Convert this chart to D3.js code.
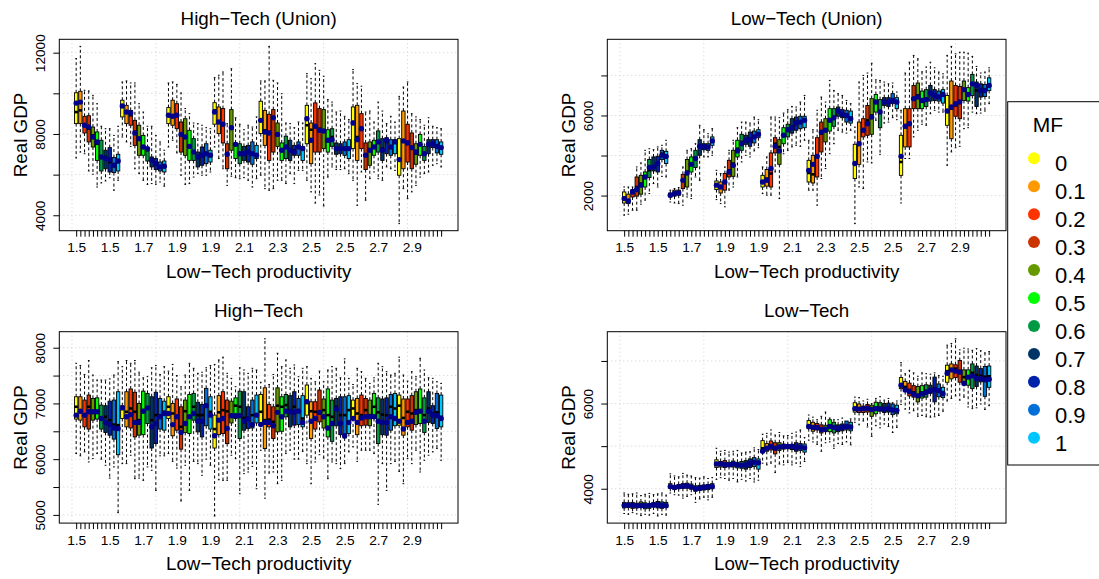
<!DOCTYPE html>
<html>
<head>
<meta charset="utf-8">
<script src="https://cdn.jsdelivr.net/npm/d3@7"></script>
<style>
  html, body { margin: 0; padding: 0; background: #fff; }
  svg { display: block; font-family: "Liberation Sans", Arial, Helvetica, sans-serif; }
</style>
</head>
<body>
<svg id="chart" width="1099" height="579"></svg>
<script>
// Low-Tech productivity groups, each holding one box per MF level
const productivity = ["1.5", "1.7", "1.9", "2.1", "2.3", "2.5", "2.7", "2.9"];
const mfLevels = ["0", "0.1", "0.2", "0.3", "0.4", "0.5", "0.6", "0.7", "0.8", "0.9", "1"];
const mfColors = ["#FFFF00", "#FF9900", "#FF3300", "#CC3300", "#669900", "#00FF00",
                  "#009944", "#003366", "#0022AA", "#0070D8", "#00C5FF"];

// High-Tech (Union): whisker top, upper quartile, median, lower quartile, whisker bottom, mean
const htuHi = [11710,12310,10150,10120,9900,9490,8380,8260,8260,7930,8380,
  10560,10610,10510,10510,9490,9080,8380,8380,7930,7610,7200,
  10510,10560,10440,10020,9250,9000,8540,8510,8430,8310,8260,
  10770,10890,11050,8510,11210,8800,8480,8210,8430,8340,8840,
  10610,10610,12310,10640,10510,9980,8540,8510,8310,8590,8540,
  10970,10720,11460,11130,10840,9690,9570,9080,9130,8870,8710,
  11170,10480,10350,9080,9130,8590,9570,9130,8510,8870,8590,
  9850,10310,10560,9000,8840,8710,8430,8800,8380,8310,8260];
const htuQ3 = [10030,10100,8870,8900,8340,8100,7690,7200,7330,6840,7000,
  9660,9410,9160,8670,8430,7930,7330,6870,6790,6620,6670,
  9300,9660,9490,8590,8750,8180,7770,7110,7360,7520,7200,
  9540,9330,9250,7520,9200,7560,7520,7390,7440,7610,7440,
  9610,9160,8970,9200,8540,7560,7890,7690,7440,7610,7390,
  9410,8540,9530,9250,9200,8210,8260,7560,7520,7610,7720,
  9330,9410,9000,7560,7610,7690,8150,7770,7820,7720,7720,
  7770,9130,8480,8050,7520,7980,7390,7720,7720,7720,7610];
const htuMed = [9080,9160,8430,8260,7930,7520,6870,6870,6620,6460,6620,
  9380,9080,8920,8100,7770,7360,7200,6700,6540,6380,6410,
  8920,8920,8920,7930,7850,7390,7110,6870,6950,7030,6950,
  9160,8590,8480,7000,8260,7490,7030,7030,7110,7000,6950,
  8670,8180,8100,8800,7980,7200,7360,7200,7200,7360,7230,
  8430,8210,8380,8260,8180,7690,7850,7280,7280,7330,7280,
  8590,7850,8310,6950,7200,7360,7610,7280,7610,7360,7610,
  6740,7690,7610,7360,7030,7490,7030,7440,7520,7390,7330];
const htuQ1 = [8510,8510,8050,7610,7360,6700,6180,6290,6130,6100,6180,
  8840,8510,8430,7440,6950,6950,6670,6380,6250,6180,6130,
  8510,8430,8260,7110,6950,6700,6700,6380,6460,6540,6620,
  8480,8020,7560,6290,7200,6790,6540,6700,6620,6510,6790,
  8020,7440,6700,7110,7390,6700,6790,6700,6950,6950,6700,
  7520,6540,7110,7110,7280,7110,7390,7000,7030,6950,6790,
  7280,6700,7280,6250,6460,6950,7110,6700,7030,6950,7030,
  5970,6290,6620,6290,6510,6950,6700,7030,7330,7070,7000];
const htuLo = [6820,7110,7030,6180,6020,5390,5590,5690,5850,5230,5720,
  7850,7610,7390,6290,6050,5720,5520,5560,5520,5640,5430,
  7360,7690,7070,5970,5520,5560,5880,6050,5970,5970,6130,
  7360,6790,6290,5470,5920,5850,5800,5850,5720,5390,5800,
  5970,5310,5230,5310,5720,5720,5560,6050,5560,6210,6210,
  5720,5150,4600,5000,4460,5880,6380,6250,6250,6290,6050,
  5720,4490,6130,4740,5800,6130,5800,5720,6380,6290,6210,
  3590,5310,4820,5150,5470,5880,6050,6130,6460,6540,6380];
const htuMean = [9520,9570,8430,8340,7850,7610,6870,6790,6740,6460,6670,
  9380,9080,9030,8050,7770,7360,7280,6700,6540,6380,6410,
  8920,8870,8920,7980,7850,7390,7110,6870,6950,7030,6950,
  9080,8590,8480,7000,8310,7490,7030,7030,7110,7030,6950,
  8670,8100,8050,8800,7980,7200,7360,7200,7110,7360,7280,
  8750,7690,8380,8180,8150,7690,7720,7280,7280,7280,7280,
  8540,7720,8260,6950,7200,7360,7610,7200,7690,7360,7610,
  6740,7660,7560,7330,7110,7490,7030,7490,7520,7390,7330];

// Low-Tech (Union)
const ltuHi = [2430,2430,2430,3430,3630,4260,4340,4290,4430,4510,4760,
  2270,2350,2400,3430,4260,4340,4590,5510,5290,5090,5340,
  3260,3100,3430,4260,4760,5390,5670,5670,5620,5920,5790,
  3430,3930,5920,5920,5890,6120,6290,6450,6420,6670,7000,
  4760,5290,6260,6920,6670,7750,7250,7090,7000,6750,6590,
  5420,7670,8000,8120,8610,7780,7750,7670,7580,7620,7170,
  6260,8120,8660,9000,8830,8180,8420,8660,8380,8170,8080,
  9000,9450,9080,9160,9160,9110,8950,8450,8120,8170,8380];
const ltuQ3 = [2180,2070,2300,2930,3010,3180,3800,3930,3960,4260,4210,
  2130,2270,2270,3060,3800,3930,4260,4790,4590,4590,4930,
  2730,2680,3100,3760,4260,4760,5060,5010,5170,5220,5290,
  3010,3300,4130,4890,4790,5390,5560,5840,5920,5960,5960,
  3760,4010,4890,5670,5840,6340,6340,6420,6290,6260,6220,
  4560,5670,5840,6500,6840,7050,6790,6890,6890,7090,6890,
  5010,6340,6340,7500,7620,7220,7290,7500,7290,7220,7290,
  7000,7720,7500,7450,7720,7390,8050,7670,7580,7550,7880];
const ltuMed = [1900,1770,2180,2430,2600,2930,3260,3430,3560,4090,3930,
  2030,2100,2130,2760,3180,3560,3850,4460,4460,4430,4730,
  2520,2430,2680,3260,3600,4340,4680,4760,4840,4930,5090,
  2680,2850,3100,4590,4430,5010,5260,5460,5670,5670,5760,
  3130,3060,3930,5090,5290,5790,5840,6220,6090,6000,5890,
  3600,4560,5220,5760,6000,6670,6220,6720,6670,6750,6670,
  3680,5390,5590,6840,7000,6750,6840,7170,7000,6950,7090,
  6260,6340,6500,6670,7290,7090,7580,7250,7290,7250,7550];
const ltuQ1 = [1630,1600,1930,1970,2070,2430,2900,3230,3180,3800,3600,
  1930,1970,2020,2350,2430,3180,3400,4010,4290,4260,4510,
  2300,2130,2270,2930,2960,3930,4260,4560,4460,4630,4890,
  2430,2470,2430,4130,3560,4590,4930,5120,5260,5340,5390,
  2680,2630,2930,4180,4680,5220,5460,5960,5890,5670,5620,
  2850,3560,4930,5010,5060,6170,5390,6500,6450,6590,6340,
  3010,4430,4430,6340,6340,6340,6450,6720,6750,6720,6620,
  5510,4840,5960,5840,6750,6720,7000,6450,6920,6950,7250];
const ltuLo = [1020,1070,1270,1270,1570,1770,2100,2600,2430,2960,2930,
  1680,1630,1600,1520,1930,1850,2930,2760,3930,3930,4010,
  1800,1600,1440,2270,2430,2930,3680,4010,3930,4230,4390,
  2100,2020,2020,3180,1850,4090,4260,4430,4510,4460,4760,
  2270,2270,1520,2850,3350,4090,4590,5260,5170,5120,5260,
  600,2430,2350,3680,3630,5760,4060,5620,5670,5890,5790,
  1630,3850,3850,4930,5260,5560,5510,6090,6260,6170,6170,
  3510,4180,4390,4460,5340,5390,6170,6090,6120,6220,6590];
const ltuMean = [1850,1730,2180,2300,2520,2930,3400,3430,3600,4010,3960,
  2020,2100,2130,2760,3130,3560,3850,4460,4430,4430,4730,
  2520,2430,2680,3180,3510,4230,4590,4760,4790,4930,5060,
  2680,2760,3350,4460,4230,5010,5290,5390,5620,5670,5760,
  3260,3560,3960,5170,5260,5760,5890,6220,6060,6000,5840,
  3600,4590,5260,5590,5920,6670,6170,6670,6670,6750,6670,
  3960,5460,5590,6840,6920,6750,6790,7120,7000,6920,7050,
  6220,6420,6590,6670,7290,7050,7580,7500,7250,7250,7500];

// High-Tech
const htHi = [7720,7680,7520,7770,7510,7420,7420,7420,7440,7510,7750,
  7660,7770,7720,7770,7560,7460,7480,7640,7680,7520,7660,
  7580,7700,7500,7300,7510,7720,7630,7540,7560,7640,7680,
  7700,7780,7830,7540,7450,7300,7640,7600,7540,7630,7600,
  7380,8160,7340,7520,7900,7660,7780,7630,7690,7480,7630,
  7660,7450,7390,7580,7390,7600,7660,7630,7460,7800,7450,
  7340,7630,7570,7450,7360,7460,7720,7660,7570,7510,7540,
  7830,7510,7400,7570,7480,7810,7600,7460,7450,7390,7360];
const htQ3 = [7120,7120,7060,7150,7090,7100,6970,6960,7040,7060,7210,
  6960,7210,7260,7200,7000,7220,7180,7120,7200,7090,7040,
  7120,7000,7080,6940,7060,7160,7180,7020,6980,7270,7120,
  6790,7140,7210,7060,7040,7100,7220,7210,6940,7060,7150,
  7160,7280,6980,6940,7280,7120,7160,7140,7210,7090,7140,
  7330,7030,7030,7240,7080,7260,7060,7090,7120,7120,7140,
  7060,7090,7150,7090,7060,7180,7100,7080,7100,7160,7180,
  7150,7080,7080,7140,7210,7260,7100,7210,6960,7180,7150];
const htMed = [6940,6850,6790,6940,6850,6860,6740,6760,6700,6620,6610,
  6920,6850,6910,6850,6700,6880,6920,6700,6790,6790,6850,
  6940,6820,6760,6580,6860,6760,6940,6790,6790,6970,6850,
  6540,6840,6880,6860,6790,6960,6940,6740,6740,6790,6800,
  6850,6700,6710,6670,6960,6940,6970,6880,6940,6880,6730,
  7030,6860,6850,6820,6880,6790,6760,6940,6790,6790,6880,
  6910,6820,6790,6880,6790,6940,6840,6800,6790,6940,6910,
  6960,6740,6850,6820,6880,6850,6790,6910,6820,6840,6760];
const htQ1 = [6720,6700,6580,6540,6700,6720,6540,6480,6430,6360,6080,
  6730,6580,6560,6400,6430,6440,6640,6200,6280,6540,6520,
  6730,6420,6520,6180,6480,6460,6700,6490,6400,6600,6540,
  6200,6440,6460,6280,6650,6730,6370,6520,6550,6560,6650,
  6660,6190,6580,6370,6490,6500,6760,6580,6610,6620,6580,
  6790,6370,6540,6670,6560,6400,6320,6600,6440,6380,6460,
  6730,6440,6600,6610,6600,6730,6280,6440,6430,6520,6600,
  6610,6430,6580,6520,6620,6640,6480,6660,6640,6550,6580];
const htLo = [6100,6060,6130,5950,6010,6100,6000,5890,5660,5860,5040,
  5920,5920,6070,5650,5660,5620,5860,5800,5440,6060,6060,
  6100,5960,5840,5250,5890,5440,5960,5920,5710,6000,5890,
  4980,5630,5620,5620,6070,6010,5380,5740,5770,5870,5470,
  6160,5300,5750,5770,5560,5620,6100,6160,6000,6000,6140,
  5920,5560,5950,6080,6020,5650,5950,5920,5830,5920,6130,
  6220,5960,6160,6160,6160,6100,5190,5920,5440,5920,5960,
  5780,5560,6010,5920,6160,5770,5980,6070,6130,6190,5980];
const htMean = [6790,6860,6790,6850,6850,6850,6730,6660,6620,6560,6550,
  6920,6760,6800,6660,6660,6860,6920,6580,6640,6760,6820,
  6820,6620,6760,6480,6640,6760,6820,6680,6680,6960,6790,
  6420,6700,6730,6550,6780,6780,6780,6680,6720,6620,6790,
  6620,6660,6660,6600,6840,6760,6860,6850,6840,6860,6660,
  7030,6680,6730,6840,6760,6560,6640,6900,6640,6420,6660,
  6730,6660,6740,6760,6760,6760,6680,6660,6660,6760,6730,
  6680,6540,6660,6680,6840,6860,6680,6860,6790,6780,6730];

// Low-Tech
const ltHi = [3900,3870,3880,3900,3840,3870,3890,3860,3880,3900,3850,
  4350,4300,4280,4360,4320,4300,4260,4250,4280,4240,4260,
  4950,4880,4900,4860,4880,4900,4840,4860,4870,4960,4920,
  5280,5300,5380,5260,5320,5240,5250,5300,5330,5380,5200,
  5730,5680,5620,5700,5800,5660,5620,5620,5660,5560,5640,
  6150,6140,6060,6100,6000,6120,6160,6080,6120,6020,6060,
  6960,6700,6780,6720,6640,6720,6700,6690,6720,6660,6640,
  7370,7410,7520,7260,7300,7280,7250,7290,7240,7190,7220];
const ltQ3 = [3680,3670,3680,3660,3690,3670,3650,3680,3700,3690,3680,
  4120,4080,4100,4120,4130,4110,4070,4080,4090,4100,4120,
  4680,4640,4660,4620,4650,4620,4640,4660,4700,4730,4700,
  5130,5060,5120,5080,5080,5050,5030,5040,5080,5060,5050,
  5600,5560,5530,5500,5490,5620,5560,5500,5520,5590,5560,
  6020,5990,5940,5980,5960,6030,6020,6000,6010,5990,5960,
  6610,6520,6480,6420,6400,6420,6440,6430,6620,6460,6380,
  6900,6930,6910,7010,6790,6790,6930,6880,6820,6870,6880];
const ltMed = [3620,3610,3620,3600,3610,3590,3600,3620,3630,3600,3610,
  4060,4030,4060,4070,4080,4050,4000,4020,4040,4050,4060,
  4600,4580,4590,4560,4580,4570,4560,4570,4600,4640,4610,
  4950,4960,5020,4960,5000,4990,5000,5010,4980,4990,4970,
  5480,5430,5460,5420,5380,5490,5460,5400,5440,5470,5450,
  5900,5880,5870,5900,5860,5890,5880,5890,5880,5860,5820,
  6440,6390,6320,6260,6200,6260,6300,6330,6350,6330,6270,
  6760,6780,6820,6750,6620,6640,6720,6670,6650,6630,6640];
const ltQ1 = [3550,3560,3540,3550,3560,3530,3540,3570,3550,3540,3560,
  4010,3980,4000,4010,4010,3990,3940,3960,3970,3980,4000,
  4500,4510,4500,4520,4510,4490,4480,4460,4500,4520,4460,
  4860,4880,4910,4820,4900,4930,4940,4920,4880,4900,4860,
  5410,5350,5380,5310,5340,5340,5310,5340,5360,5380,5360,
  5800,5790,5790,5800,5700,5760,5820,5790,5800,5740,5760,
  6350,6280,6180,6150,6040,6130,6150,6240,6040,6160,6140,
  6500,6580,6610,6500,6480,6430,6350,6400,6510,6170,6380];
const ltLo = [3420,3400,3440,3410,3370,3400,3380,3420,3360,3400,3380,
  3900,3860,3850,3780,3820,3860,3680,3760,3800,3740,3800,
  4220,4260,4240,4200,4240,4160,4220,4180,4240,4160,4200,
  4600,4560,4600,4380,4580,4560,4620,4560,4600,4520,4640,
  5140,5100,5040,4880,5080,5100,4950,5060,5040,5100,5030,
  5560,5500,5590,5450,5230,5480,5430,5520,5460,5320,5440,
  5980,5870,5780,5830,5700,5720,5690,5680,5690,5720,5820,
  6060,6120,6180,6080,6150,5920,5880,5900,5990,5860,5950];
const ltMean = [3610,3620,3610,3600,3600,3600,3610,3620,3620,3610,3600,
  4050,4030,4050,4060,4070,4040,4000,4010,4030,4050,4050,
  4580,4580,4570,4560,4580,4560,4550,4560,4590,4620,4610,
  4880,4950,4990,4950,4980,4990,4990,5000,4970,4980,4960,
  5460,5440,5440,5390,5400,5460,5440,5420,5440,5460,5450,
  5880,5870,5880,5890,5860,5880,5880,5870,5880,5850,5840,
  6430,6320,6280,6220,6180,6220,6260,6300,6330,6300,6230,
  6710,6790,6760,6740,6470,6620,6650,6590,6590,6560,6570];

const panelTitles = ["High\u2212Tech (Union)", "Low\u2212Tech (Union)", "High\u2212Tech", "Low\u2212Tech"];
const xTitle = "Low\u2212Tech productivity";
const yTitle = "Real GDP";

const panels = [
  { title: panelTitles[0], col: 0, row: 0, hi: htuHi, q3: htuQ3, med: htuMed, q1: htuQ1, lo: htuLo, mean: htuMean },
  { title: panelTitles[1], col: 1, row: 0, hi: ltuHi, q3: ltuQ3, med: ltuMed, q1: ltuQ1, lo: ltuLo, mean: ltuMean },
  { title: panelTitles[2], col: 0, row: 1, hi: htHi,  q3: htQ3,  med: htMed,  q1: htQ1,  lo: htLo,  mean: htMean },
  { title: panelTitles[3], col: 1, row: 1, hi: ltHi,  q3: ltQ3,  med: ltMed,  q1: ltQ1,  lo: ltLo,  mean: ltMean }
];

const svg = d3.select("#chart");
const plotW = 398.7, plotH = 191.4;
const FONT = '"Liberation Sans", Arial, Helvetica, sans-serif';

panels.forEach(p => {
  const x0 = 59.3 + p.col * 548, y0 = 39.3 + p.row * 292.4;
  const x1 = x0 + plotW, y1 = y0 + plotH;
  const n = p.med.length;
  const nMF = mfLevels.length;

  // boxplot-style limits: 4% padding on both axes
  const xPad = 0.04 * n;
  const x = d3.scaleLinear().domain([0.5 - xPad, n + 0.5 + xPad]).range([x0, x1]);
  const yMin = d3.min(p.lo), yMax = d3.max(p.hi);
  const yPad = 0.04 * (yMax - yMin);
  const y = d3.scaleLinear().domain([yMin - yPad, yMax + yPad]).range([y1, y0]);

  const g = svg.append("g");

  // dotted grid
  const yTicks = y.ticks(5);
  const xGrid = d3.ticks(x.domain()[0], x.domain()[1], 5);
  g.append("g").selectAll("line.h").data(yTicks).join("line")
    .attr("x1", x0).attr("x2", x1).attr("y1", d => y(d)).attr("y2", d => y(d))
    .attr("stroke", "#cfcfcf").attr("stroke-width", 1).attr("stroke-dasharray", "1,3");
  g.append("g").selectAll("line.v").data(xGrid).join("line")
    .attr("x1", d => x(d)).attr("x2", d => x(d)).attr("y1", y0).attr("y2", y1)
    .attr("stroke", "#cfcfcf").attr("stroke-width", 1).attr("stroke-dasharray", "1,3");

  // boxes
  const idx = d3.range(n);
  const bw = x(1.8) - x(1);
  const staple = bw / 4;
  const boxes = g.append("g").selectAll("g").data(idx).join("g");
  const cx = i => x(i + 1);
  const dash = "3,2.5";
  boxes.append("line")
    .attr("x1", cx).attr("x2", cx).attr("y1", i => y(p.q3[i])).attr("y2", i => y(p.hi[i]))
    .attr("stroke", "#000").attr("stroke-width", 1).attr("stroke-dasharray", dash);
  boxes.append("line")
    .attr("x1", cx).attr("x2", cx).attr("y1", i => y(p.q1[i])).attr("y2", i => y(p.lo[i]))
    .attr("stroke", "#000").attr("stroke-width", 1).attr("stroke-dasharray", dash);
  boxes.append("line")
    .attr("x1", i => cx(i) - staple).attr("x2", i => cx(i) + staple)
    .attr("y1", i => y(p.hi[i])).attr("y2", i => y(p.hi[i]))
    .attr("stroke", "#000").attr("stroke-width", 1);
  boxes.append("line")
    .attr("x1", i => cx(i) - staple).attr("x2", i => cx(i) + staple)
    .attr("y1", i => y(p.lo[i])).attr("y2", i => y(p.lo[i]))
    .attr("stroke", "#000").attr("stroke-width", 1);
  boxes.append("rect")
    .attr("x", i => cx(i) - bw / 2).attr("width", bw)
    .attr("y", i => y(p.q3[i])).attr("height", i => y(p.q1[i]) - y(p.q3[i]))
    .attr("fill", i => mfColors[i % nMF]).attr("stroke", "#000").attr("stroke-width", 0.9);
  boxes.append("line")
    .attr("x1", i => cx(i) - bw / 2).attr("x2", i => cx(i) + bw / 2)
    .attr("y1", i => y(p.med[i])).attr("y2", i => y(p.med[i]))
    .attr("stroke", "#000").attr("stroke-width", 2.6);

  // means
  g.append("g").selectAll("circle").data(idx).join("circle")
    .attr("cx", cx).attr("cy", i => y(p.mean[i])).attr("r", 2.7)
    .attr("fill", "#00008B");

  // frame
  g.append("rect").attr("x", x0).attr("y", y0).attr("width", plotW).attr("height", plotH)
    .attr("fill", "none").attr("stroke", "#000").attr("stroke-width", 1);

  // x axis: a tick per box, group label on every 8th box
  const xAxis = d3.axisBottom(x).tickValues(idx.map(i => i + 1)).tickSizeInner(6).tickSizeOuter(0)
    .tickFormat(d => ((d - 1) % 8 === 0 ? productivity[Math.floor((d - 1) / nMF)] : ""));
  const gx = g.append("g").attr("transform", `translate(0,${y1})`).call(xAxis);
  gx.select(".domain").remove();
  gx.selectAll(".tick line").attr("stroke", "#000");
  gx.selectAll(".tick text").attr("y", 21.6).attr("dy", null)
    .attr("font-size", 13.7).attr("font-family", FONT).attr("fill", "#000");

  // y axis: every other tick labelled, labels parallel to axis
  const yAxis = d3.axisLeft(y).tickValues(yTicks).tickSizeInner(6).tickSizeOuter(0)
    .tickFormat((d, i) => (i % 2 === 0 ? d3.format("d")(d) : ""));
  const gy = g.append("g").attr("transform", `translate(${x0},0)`).call(yAxis);
  gy.select(".domain").remove();
  gy.selectAll(".tick line").attr("stroke", "#000");
  gy.selectAll(".tick text").attr("x", null).attr("dy", null)
    .attr("transform", "translate(-14.8,0) rotate(-90)")
    .attr("text-anchor", "middle")
    .attr("font-size", 13.7).attr("font-family", FONT).attr("fill", "#000");

  // titles
  g.append("text").attr("x", (x0 + x1) / 2).attr("y", y0 - 14.3)
    .attr("text-anchor", "middle").attr("font-size", 18.8).text(p.title);
  g.append("text").attr("x", (x0 + x1) / 2).attr("y", y1 + 47)
    .attr("text-anchor", "middle").attr("font-size", 18.8).text(xTitle);
  g.append("text").attr("transform", `translate(${x0 - 32.6},${(y0 + y1) / 2}) rotate(-90)`)
    .attr("text-anchor", "middle").attr("font-size", 18.8).text(yTitle);
});

// MF legend
const leg = svg.append("g");
leg.append("rect").attr("x", 1007.7).attr("y", 101.7).attr("width", 120).attr("height", 363.3)
  .attr("fill", "#fff").attr("stroke", "#000").attr("stroke-width", 1);
leg.append("text").attr("x", 1032.7).attr("y", 131.7).attr("font-size", 21).text("MF");
const legY = d3.scaleLinear().domain([0, mfLevels.length - 1]).range([158.3, 437.7]);
const items = leg.selectAll("g.item").data(mfLevels).join("g");
items.append("circle").attr("cx", 1034).attr("cy", (d, i) => legY(i)).attr("r", 6)
  .attr("fill", (d, i) => mfColors[i]);
items.append("text").attr("x", 1055).attr("y", (d, i) => legY(i) + 12.8)
  .attr("font-size", 22).text(d => d);
</script>
</body>
</html>
